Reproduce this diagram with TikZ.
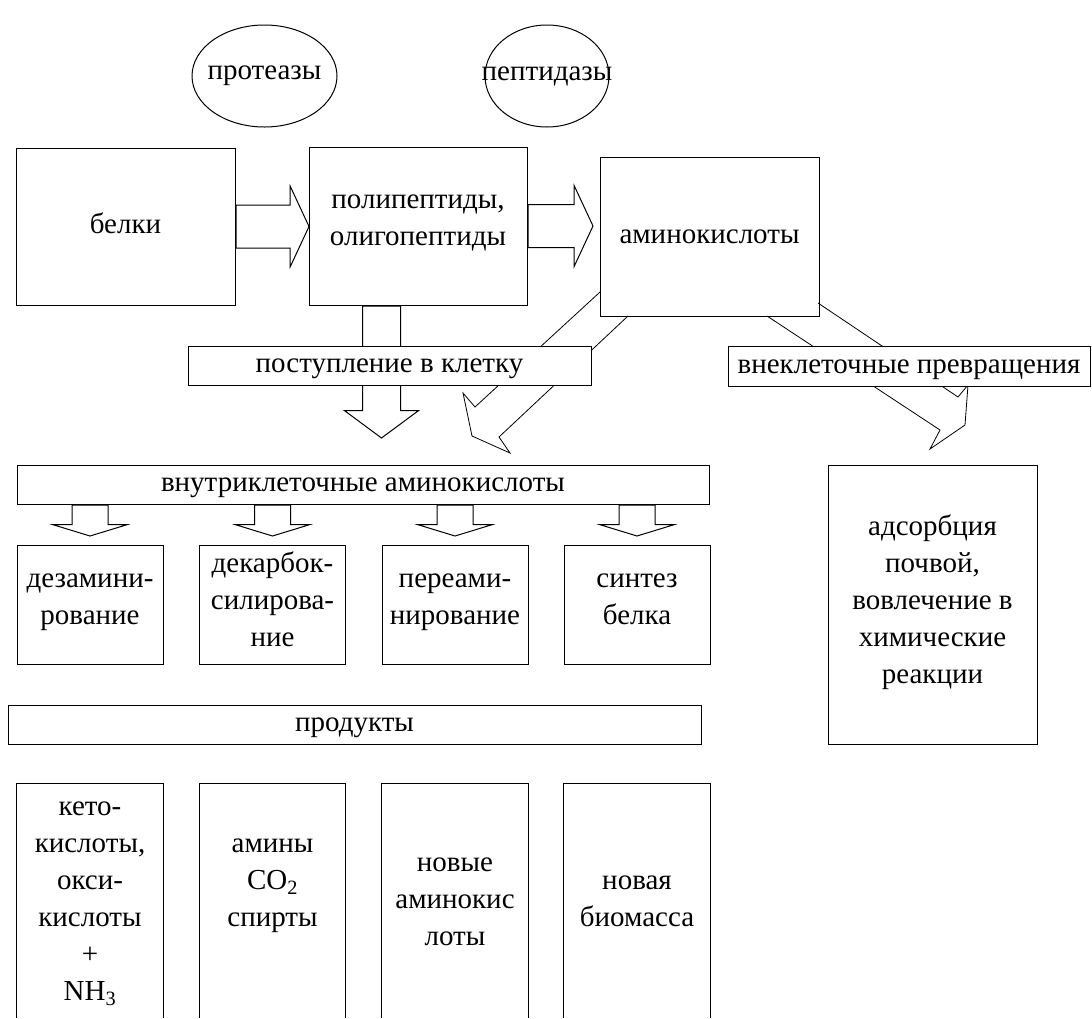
\documentclass[tikz,border=0pt]{standalone}
\usepackage{fontspec}
\setmainfont{Liberation Serif}
\usepackage{tikz}
\usetikzlibrary{shapes.geometric,shapes.arrows}

\tikzset{
  blk/.style={draw=black, fill=white, line width=1pt, align=center,
    execute at begin node=\strut, execute at end node=\strut},
  enz/.style={draw=black, ellipse, line width=1pt},
  harrow/.style={draw=black, line width=1pt, single arrow, inner xsep=0pt, inner ysep=21pt,
    single arrow head extend=19, single arrow tip angle=130},
  varrow/.style={draw=black, line width=1pt, single arrow, rotate=-90, minimum height=132,
    inner xsep=0pt, inner ysep=18.5pt, single arrow head extend=18, single arrow tip angle=107},
  sarrow/.style={draw=black, line width=1pt, single arrow, rotate=-90, minimum height=31,
    inner xsep=0pt, inner ysep=17.5pt, single arrow head extend=19, single arrow tip angle=146},
  diag/.style={draw=black, line width=0.8pt}
}

\begin{document}
\begin{tikzpicture}[x=1pt,y=1pt,font=\fontsize{29}{37}\selectfont]
\tikzstyle{every node}+=[inner sep=0pt]
\useasboundingbox (0,0) rectangle (1092,-1018);
% ферменты
\node[enz, minimum width=145, minimum height=102, label=center:протеазы] (prot) at (264.5,-76) {};
\node[enz, minimum width=124, minimum height=102, label=center:пептидазы] (pept) at (547,-76) {};
% верхний ряд
\node[blk, minimum width=219, minimum height=157] (belki) at (125.5,-226.5) {белки};
\node[blk, minimum width=218, minimum height=158] (poly) at (418,-226) {полипептиды,\\олигопептиды};
\node[blk, minimum width=219, minimum height=159] (amino) at (709.5,-236.5) {аминокислоты};
\node[harrow, minimum height=73, anchor=tail] (a1) at (belki.east) {};
\node[harrow, minimum height=65, anchor=tail] (a2) at (poly.east) {};
\node[varrow, anchor=tail] (a3) at ([xshift=-36.5]poly.south) {};
% косые стрелки
\draw[diag] (600,-292) -- (475,-407) -- (463,-393) -- (472,-436) -- (510,-453) -- (499,-437) -- (628,-316);
\draw[diag] (818,-303) -- (958,-397) -- (968,-385) -- (965,-425) -- (930,-449) -- (940,-430) -- (767,-316);
% поступление
\node[blk, minimum width=403, minimum height=39] (post) at (389.5,-365.5) {поступление в клетку};
\node[blk, minimum width=362, minimum height=40] (vnek) at (909,-366) {внеклеточные превращения};
\node[blk, minimum width=209, minimum height=279] (adso) at (932.5,-604.5)
  {адсорбция\\почвой,\\вовлечение в\\химические\\реакции};
% внутри клетки
\node[blk, minimum width=692, minimum height=39] (vnut) at (363,-484.5) {внутриклеточные аминокислоты};
\node[blk, minimum width=146, minimum height=119] (dez) at (90,-604.5) {дезамини-\\рование};
\node[blk, minimum width=146, minimum height=119] (dek) at (272.5,-604.5) {декарбок-\\силирова-\\ние};
\node[blk, minimum width=146, minimum height=119] (per) at (455,-604.5) {переами-\\нирование};
\node[blk, minimum width=146, minimum height=119] (sin) at (637,-604.5) {синтез\\белка};
\foreach \n in {dez,dek,per,sin}
  \node[sarrow, anchor=tail] (s\n) at (\n.north |- vnut.south) {};
% продукты
\node[blk, minimum width=693, minimum height=39] (prod) at (354.5,-724.5) {продукты};
\node[align=center, minimum width=146, minimum height=234] (p1) at (90,-901)
  {\strut кето-\\кислоты,\\окси-\\кислоты\\+\\NH\textsubscript{3}\strut};
\node[align=center, minimum width=146, minimum height=234] (p2) at (272.5,-901)
  {\strut амины\\CO\textsubscript{2}\\спирты\\\strut};
\node[align=center, minimum width=146, minimum height=234] (p3) at (455,-901)
  {\strut новые\\аминокис\\лоты\strut};
\node[align=center, minimum width=146, minimum height=234] (p4) at (637,-901)
  {\strut новая\\биомасса\strut};
\foreach \n in {p1,p2,p3,p4}
  \draw[line width=1pt] (\n.south west) -- (\n.north west) -- (\n.north east) -- (\n.south east);
\end{tikzpicture}
\end{document}
